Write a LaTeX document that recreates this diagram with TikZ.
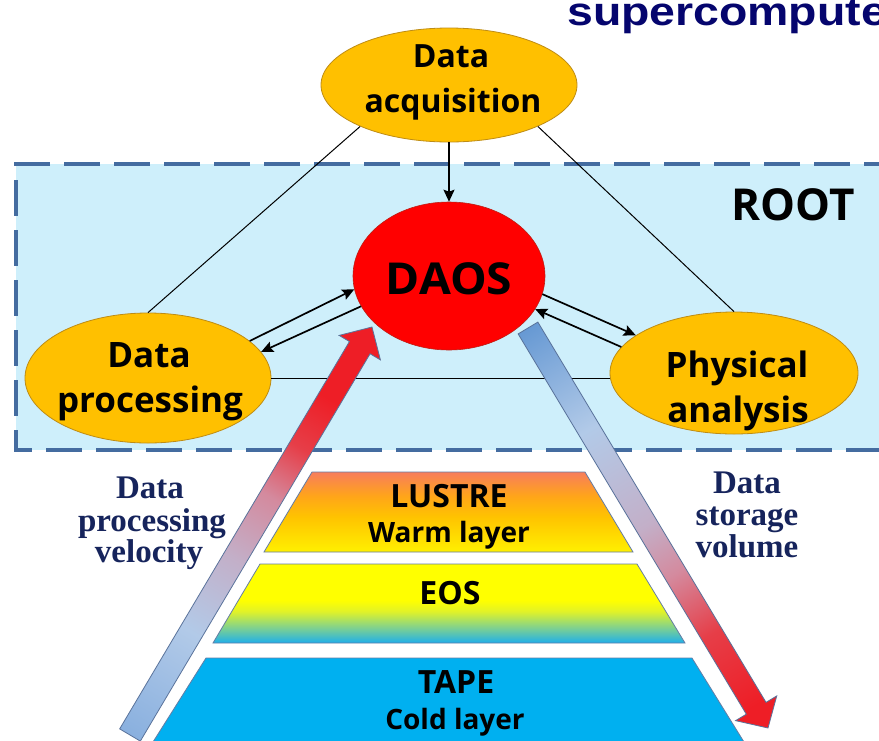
\documentclass[tikz,border=0pt]{standalone}
\usepackage{fontspec}
\setmainfont{Open Sans}
\newfontfamily\serifbf{Liberation Serif}
\newfontfamily\titlefont{Liberation Sans}
\usetikzlibrary{shapes.geometric,arrows.meta,calc}
\definecolor{gold}{RGB}{255,192,0}
\definecolor{goldedge}{RGB}{190,140,20}
\definecolor{daosred}{RGB}{255,0,0}
\definecolor{daosedge}{RGB}{190,30,20}
\definecolor{boxfill}{RGB}{206,239,251}
\definecolor{boxdash}{RGB}{68,108,160}
\definecolor{titlenavy}{RGB}{5,5,110}
\definecolor{labnavy}{RGB}{22,36,92}
\definecolor{layeredge}{RGB}{100,125,165}
\definecolor{tapeblue}{RGB}{0,176,240}
\definecolor{lustop}{RGB}{247,125,92}
\definecolor{lusorange}{RGB}{255,165,25}
\definecolor{lusmid}{RGB}{255,195,0}
\definecolor{lusbot}{RGB}{255,240,0}
\definecolor{eostop}{RGB}{255,255,0}
\definecolor{eosyg}{RGB}{225,242,40}
\definecolor{eosgreen}{RGB}{130,210,140}
\definecolor{eosbot}{RGB}{30,175,235}
\definecolor{arrblue}{RGB}{98,150,210}
\definecolor{arrblue2}{RGB}{125,168,220}
\definecolor{arrlight}{RGB}{178,202,232}
\definecolor{arrmauve}{RGB}{195,175,200}
\definecolor{arrpink}{RGB}{212,138,158}
\definecolor{arrredpink}{RGB}{230,62,72}
\definecolor{arrred}{RGB}{238,30,38}
\definecolor{arredge}{RGB}{90,115,155}
\pgfdeclareverticalshading{lustreshade}{100bp}{color(0bp)=(lusbot); color(25bp)=(lusbot); color(47bp)=(lusmid); color(60bp)=(lusorange); color(75bp)=(lustop); color(100bp)=(lustop)}
\pgfdeclareverticalshading{eosshade}{100bp}{color(0bp)=(eosbot); color(25bp)=(eosbot); color(35bp)=(eosgreen); color(45bp)=(eosyg); color(52bp)=(eostop); color(100bp)=(eostop)}
\pgfdeclareverticalshading{leftarrshade}{100bp}{color(0bp)=(arrblue); color(12bp)=(arrblue2); color(34bp)=(arrlight); color(46bp)=(arrmauve); color(56bp)=(arrpink); color(64bp)=(arrredpink); color(72bp)=(arrred); color(100bp)=(arrred)}
\pgfdeclareverticalshading{rightarrshade}{100bp}{color(0bp)=(arrblue); color(16bp)=(arrblue); color(34bp)=(arrlight); color(50bp)=(arrmauve); color(58bp)=(arrpink); color(68bp)=(arrredpink); color(80bp)=(arrred); color(100bp)=(arrred)}
\begin{document}
\begin{tikzpicture}[x=1pt,y=-1pt,
  ell/.style={ellipse, draw=goldedge, fill=gold, line width=0.8pt, inner sep=0pt},
  etxt/.style={anchor=base, inner sep=0pt, font=\bfseries\fontsize{35}{40}\selectfont},
  atxt/.style={anchor=base, inner sep=0pt, font=\bfseries\fontsize{32}{36}\selectfont},
  ltxt/.style={anchor=base, inner sep=0pt, font=\bfseries\fontsize{32}{36}\selectfont},
  lltxt/.style={anchor=base, inner sep=0pt, font=\bfseries\fontsize{28}{32}\selectfont},
  stxt/.style={anchor=base, inner sep=0pt, text=labnavy, font=\serifbf\bfseries\fontsize{33}{36}\selectfont},
  thinline/.style={line width=1pt, black},
  sarrow/.style={line width=1.7pt, black, -{Stealth[length=12pt,width=11pt,inset=2pt]}},
  layer/.style={draw=layeredge, line width=0.8pt},
  bigarrow/.style={draw=arredge, line width=0.8pt}
]
\useasboundingbox (0,0) rectangle (879,740);
\clip (0,0) rectangle (879,740);
\fill[white] (0,0) rectangle (879,740);

% title
\node[anchor=base west, inner sep=0pt, text=titlenavy, font=\titlefont\bfseries\fontsize{40}{42}\selectfont] (title) at (567,25) {\scalebox{1.16}[1]{supercompute}};

% ROOT box
\fill[boxfill] (16,164) rectangle (900,450);
\draw[boxdash, line width=4.5pt, dash pattern=on 36pt off 14pt] (900,164) -- (16,164) -- (16,450) -- (900,450);

% ellipses
\node[ell, minimum width=256pt, minimum height=114pt] (acq) at (449,85) {};
\node[ell, minimum width=246pt, minimum height=130pt] (dp) at (148,378) {};
\node[ell, minimum width=248pt, minimum height=122pt] (pa) at (734,373) {};
\node[ellipse, draw=daosedge, fill=daosred, line width=0.6pt, inner sep=0pt, minimum width=192pt, minimum height=148pt] (daos) at (449,276) {};

% texts in ellipses
\node[atxt] (acqt1) at (451,67) {Data};
\node[atxt] (acqt2) at (453,112) {acquisition};
\node[etxt] (dpt1) at (149,367) {Data};
\node[etxt] (dpt2) at (150,412) {processing};
\node[etxt] (pat1) at (737,377) {Physical};
\node[etxt] (pat2) at (738,422) {analysis};
\node[anchor=base, inner sep=0pt, font=\bfseries\fontsize{44}{48}\selectfont] (daost) at (449,294) {\scalebox{1.05}[1]{DAOS}};
\node[anchor=base, inner sep=0pt, font=\bfseries\fontsize{44}{48}\selectfont] (root) at (793,220) {ROOT};

% connectors
\draw[thinline] (acq.205) -- (dp.north);
\draw[thinline] (acq.335) -- (pa.north);
\draw[thinline] (dp.east) -- (dp.east -| pa.west);
\draw[sarrow] (acq.south) -- (daos.north);
\draw[sarrow] (dp.20) -- (daos.188);
\draw[sarrow] (daos.199) -- (dp.13);
\draw[sarrow] (daos.349) -- (pa.159);
\draw[sarrow] (pa.167) -- (daos.339);

% pyramid
\path[layer, shading=lustreshade] (312,472) -- (585,472) -- (633,552) -- (264,552) -- cycle;
\path[layer, shading=eosshade] (260,564) -- (637,564) -- (685,643) -- (213,643) -- cycle;
\path[layer, fill=tapeblue] (206,658) -- (692,658) -- (744,742) -- (153,742) -- cycle;
\node[ltxt] (lus1) at (449,507) {LUSTRE};
\node[lltxt] (lus2) at (449,542) {Warm layer};
\node[ltxt] (eos) at (450,604) {EOS};
\node[ltxt] (tape1) at (456,693) {TAPE};
\node[lltxt] (tape2) at (455,729) {Cold layer};

% big gradient arrows
\coordinate (la0) at (130,735);
\coordinate (la1) at (372,327);
\coordinate (lah) at ($(la1)!24pt!(la0)$);
\path[bigarrow, shading=leftarrshade, shading angle=-30.7]
  ($(la0)!12pt!90:(la1)$) -- ($(lah)!12pt!-90:(la0)$) -- ($(lah)!24pt!-90:(la0)$) -- (la1)
  -- ($(lah)!24pt!90:(la0)$) -- ($(lah)!12pt!90:(la0)$) -- ($(la0)!12pt!-90:(la1)$) -- cycle;
\coordinate (ra0) at (528,328);
\coordinate (ra1) at (768,728);
\coordinate (rah) at ($(ra1)!23pt!(ra0)$);
\path[bigarrow, shading=rightarrshade, shading angle=-149]
  ($(ra0)!11.5pt!90:(ra1)$) -- ($(rah)!11.5pt!-90:(ra0)$) -- ($(rah)!24pt!-90:(ra0)$) -- (ra1)
  -- ($(rah)!24pt!90:(ra0)$) -- ($(rah)!11.5pt!90:(ra0)$) -- ($(ra0)!11.5pt!-90:(ra1)$) -- cycle;

% side labels
\node[stxt] (lv1) at (150,498) {Data};
\node[stxt] (lv2) at (152,531) {processing};
\node[stxt] (lv3) at (149,562) {velocity};
\node[stxt] (rv1) at (747,493) {Data};
\node[stxt] (rv2) at (747,525) {storage};
\node[stxt] (rv3) at (747,557) {volume};
\end{tikzpicture}
\end{document}
